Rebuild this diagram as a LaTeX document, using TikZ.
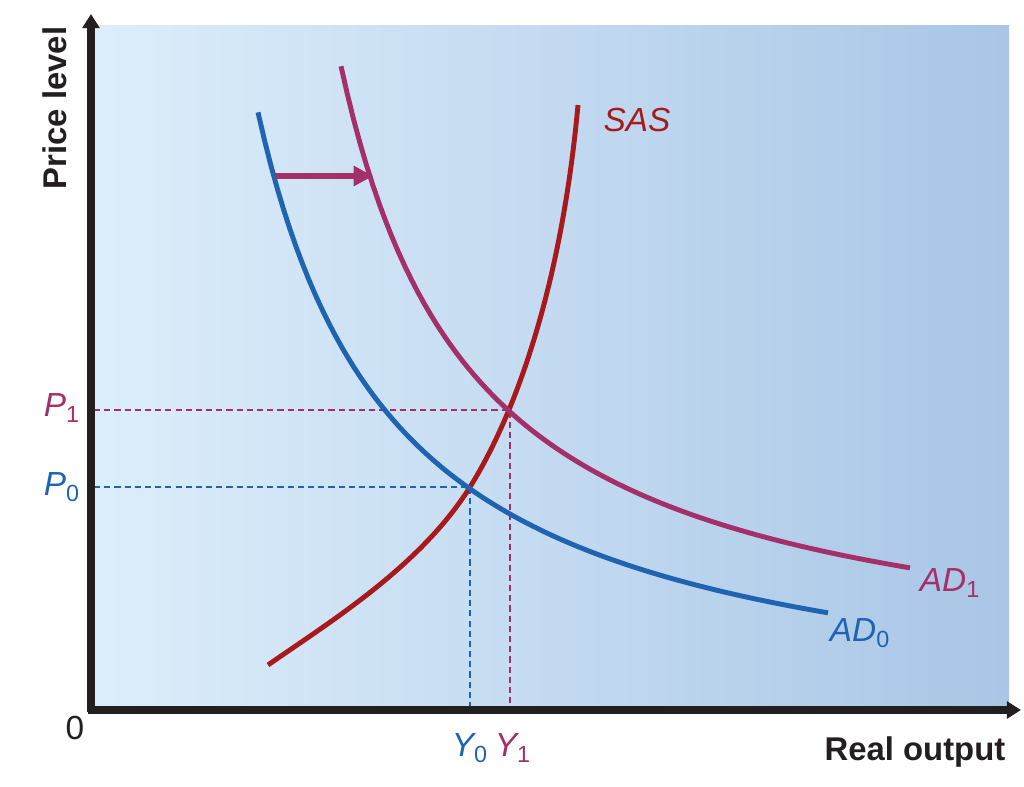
\documentclass[tikz,border=0pt]{standalone}
\usepackage{fontspec}
\setmainfont{Liberation Sans}
\usetikzlibrary{arrows.meta}
\definecolor{bgL}{HTML}{DDEEFB}
\definecolor{bgR}{HTML}{A9C6E6}
\definecolor{adblue}{HTML}{1E64B0}
\definecolor{admag}{HTML}{A3306A}
\definecolor{sasred}{HTML}{A8191C}
\definecolor{axisc}{HTML}{231F20}
\tikzset{
  axisline/.style={draw=axisc,line width=4pt,-{Triangle[length=8pt,width=9.5pt]}},
  curve/.style={line width=2.8pt},
  guide/.style={line width=0.9pt,dash pattern=on 3.5pt off 2.3pt},
  axlabel/.style={font=\fontsize{18.7}{22}\selectfont\bfseries,text=axisc,inner sep=0pt},
  curvelabel/.style={font=\fontsize{19}{22}\selectfont\itshape,inner sep=0pt},
}
\begin{document}
\begin{tikzpicture}[x=0.02cm,y=-0.02cm]
\useasboundingbox (0,0) rectangle (1024,787);
\shade[left color=bgL,right color=bgR] (92,26) rectangle (1009,710);
% coordinates
\coordinate (ytop) at (91,14);
\coordinate (xend) at (1021,710);
\coordinate (E0) at (470,487);
\coordinate (E1) at (510,410);
\coordinate (P0ax) at (94,487);
\coordinate (P1ax) at (94,410);
\coordinate (Y0ax) at (470,707);
\coordinate (Y1ax) at (510,707);
\coordinate (sasA) at (268,665);
\coordinate (sasB) at (578,105);
% guides
\draw[guide,adblue] (P0ax) -- (E0) -- (Y0ax);
\draw[guide,admag] (P1ax) -- (E1) -- (Y1ax);
% curves
\draw[curve,sasred] (sasA) .. controls (328,623) and (420,567) .. (E0) .. controls (510,423) and (560,300) .. (sasB);
\draw[curve,adblue] plot[domain=258:828,samples=90] (\x,{734-86.4/((\x-120)*0.001)});
\draw[curve,admag] plot[domain=341:910,samples=90] (\x,{686-83.64/((\x-207)*0.001)});
% shift arrow
\coordinate (sa) at (275,176);
\coordinate (sb) at (373,176);
\draw[admag,line width=3.4pt,-{Triangle[length=11pt,width=11pt]}] (sa) -- (sb);
% axes
\draw[axisline] (91,712) -- (ytop);
\draw[axisline] (88,710) -- (xend);
% labels
\node[axlabel,rotate=90] (pl) at (55,108) {Price level};
\node[axlabel] (ro) at (915,752) {Real output};
\node[axlabel,font=\fontsize{19}{22}\selectfont] (zero) at (75,728) {0};
\node[curvelabel,text=admag] (p1) at (62,408) {P\textsubscript{\upshape 1}};
\node[curvelabel,text=adblue] (p0) at (62,487) {P\textsubscript{\upshape 0}};
\node[curvelabel,text=adblue] (y0) at (470,748) {Y\textsubscript{\upshape 0}};
\node[curvelabel,text=admag] (y1) at (513,748) {Y\textsubscript{\upshape 1}};
\node[curvelabel,text=sasred] (sas) at (637,120) {SAS};
\node[curvelabel,text=admag] (ad1) at (950,583) {AD\textsubscript{\upshape 1}};
\node[curvelabel,text=adblue] (ad0) at (860,633) {AD\textsubscript{\upshape 0}};
\end{tikzpicture}
\end{document}
